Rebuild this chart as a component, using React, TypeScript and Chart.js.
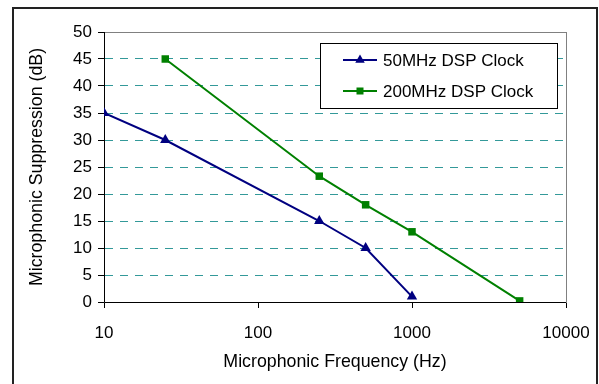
import React, { useEffect, useRef } from "react";
import { Chart, registerables } from "chart.js";

Chart.register(...registerables);

const seriesLabels = ["50MHz DSP Clock", "200MHz DSP Clock"];
const freq50 = [10, 25, 250, 500, 1000];
const supp50 = [35, 30, 15, 10, 1];
const freq200 = [25, 250, 500, 1000, 5000];
const supp200 = [45, 23.3, 18, 13, 0.2];
const xTicks = [10, 100, 1000, 10000];
const yTitle = "Microphonic Suppression (dB)";
const xTitle = "Microphonic Frequency (Hz)";

const FONT = "'Liberation Sans', Arial, sans-serif";
const NAVY = "#000080";
const GREEN = "#008000";

const framePlugin = {
  id: "frame",
  beforeDatasetsDraw(chart: any) {
    const { ctx, chartArea } = chart;
    ctx.save();
    ctx.strokeStyle = "#808080";
    ctx.lineWidth = 1;
    ctx.strokeRect(
      Math.round(chartArea.left) + 0.5,
      Math.round(chartArea.top) + 0.5,
      Math.round(chartArea.right - chartArea.left),
      Math.round(chartArea.bottom - chartArea.top)
    );
    ctx.strokeStyle = "#000";
    ctx.beginPath();
    ctx.moveTo(Math.round(chartArea.left) + 0.5, Math.round(chartArea.top));
    ctx.lineTo(Math.round(chartArea.left) + 0.5, Math.round(chartArea.bottom) + 0.5);
    ctx.lineTo(Math.round(chartArea.right), Math.round(chartArea.bottom) + 0.5);
    ctx.stroke();
    ctx.restore();
  },
  afterDraw(chart: any) {
    const { ctx } = chart;
    ctx.save();
    ctx.strokeStyle = "#222";
    ctx.lineWidth = 2;
    ctx.strokeRect(13, 8, 584, 400);
    ctx.restore();
  },
};

const legendPlugin = {
  id: "boxLegend",
  afterDraw(chart: any) {
    const { ctx } = chart;
    const bx = 320, by = 43, bw = 237, bh = 65;
    ctx.save();
    ctx.fillStyle = "#fff";
    ctx.fillRect(bx, by, bw, bh);
    ctx.strokeStyle = "#000";
    ctx.lineWidth = 1;
    ctx.strokeRect(bx + 0.5, by + 0.5, bw, bh);
    chart.data.datasets.forEach((ds: any, i: number) => {
      const y = 60 + i * 31;
      ctx.strokeStyle = ds.borderColor;
      ctx.lineWidth = 2;
      ctx.beginPath();
      ctx.moveTo(343, y);
      ctx.lineTo(377, y);
      ctx.stroke();
      ctx.fillStyle = ds.pointBackgroundColor;
      const cx = 360;
      if (ds.pointStyle === "triangle") {
        const r = 5.5;
        ctx.beginPath();
        ctx.moveTo(cx, y - r);
        ctx.lineTo(cx + r * 0.866, y + r * 0.5);
        ctx.lineTo(cx - r * 0.866, y + r * 0.5);
        ctx.closePath();
        ctx.fill();
      } else {
        ctx.fillRect(cx - 3.5, y - 3.5, 7, 7);
      }
      ctx.fillStyle = "#000";
      ctx.font = `17px ${FONT}`;
      ctx.textBaseline = "middle";
      ctx.textAlign = "left";
      ctx.fillText(ds.label, 383, y + 1);
    });
    ctx.restore();
  },
};

export default function App() {
  const ref = useRef<HTMLCanvasElement>(null);
  useEffect(() => {
    if (!ref.current) return;
    const chart = new Chart(ref.current, {
      type: "line",
      data: {
        datasets: [
          {
            label: seriesLabels[0],
            data: freq50.map((x, i) => ({ x, y: supp50[i] })),
            borderColor: NAVY,
            backgroundColor: NAVY,
            pointBackgroundColor: NAVY,
            pointBorderColor: NAVY,
            pointStyle: "triangle",
            pointRadius: 6,
            borderWidth: 2,
            pointBorderWidth: 0,
          },
          {
            label: seriesLabels[1],
            data: freq200.map((x, i) => ({ x, y: supp200[i] })),
            borderColor: GREEN,
            backgroundColor: GREEN,
            pointBackgroundColor: GREEN,
            pointBorderColor: GREEN,
            pointStyle: "rect",
            pointRadius: 5.3,
            borderWidth: 2,
            pointBorderWidth: 0,
          },
        ],
      },
      options: {
        animation: false,
        responsive: false,
        layout: { padding: { left: 0, right: 33, top: 32, bottom: 0 } },
        plugins: {
          legend: { display: false },
          tooltip: { enabled: false },
        },
        scales: {
          x: {
            type: "logarithmic",
            min: 10,
            max: 10000,
            afterBuildTicks: (scale: any) => {
              scale.ticks = xTicks.map((v) => ({ value: v }));
            },
            afterFit: (scale: any) => {
              scale.height = 82;
              scale.paddingLeft = 0;
              scale.paddingRight = 0;
            },
            ticks: {
              callback: (v: any) => String(v),
              color: "#000",
              font: { family: FONT, size: 17 },
              padding: 15,
              maxRotation: 0,
              autoSkip: false,
            },
            grid: {
              drawOnChartArea: false,
              drawTicks: true,
              tickLength: 6,
              tickColor: "#000",
              tickWidth: 1,
            },
            border: { display: false },
            title: {
              display: true,
              text: xTitle,
              color: "#000",
              font: { family: FONT, size: 17.8 },
              padding: { top: 0, bottom: 11 },
            },
          },
          y: {
            type: "linear",
            min: 0,
            max: 50,
            afterFit: (scale: any) => {
              scale.width = 104;
              scale.paddingTop = 0;
              scale.paddingBottom = 0;
            },
            ticks: {
              stepSize: 5,
              color: "#000",
              font: { family: FONT, size: 17 },
              padding: 6,
            },
            grid: {
              color: (c: any) =>
                c.tick && (c.tick.value === 0 || c.tick.value === 50)
                  ? "rgba(0,0,0,0)"
                  : "#339999",
              lineWidth: 1,
              drawTicks: true,
              tickLength: 6,
              tickColor: "#000",
              tickWidth: 1,
              tickBorderDash: [1, 0],
            },
            border: { display: false, dash: [8, 7], dashOffset: -1 },
            title: {
              display: true,
              text: yTitle,
              color: "#000",
              font: { family: FONT, size: 17.8 },
              padding: { top: 26, bottom: 0 },
            },
          },
        },
      },
      plugins: [framePlugin, legendPlugin],
    } as any);
    return () => chart.destroy();
  }, []);
  return (
    <div style={{ position: "fixed", left: 0, top: 0, width: 599, height: 384, background: "#fff" }}>
      <canvas ref={ref} width={599} height={384} style={{ display: "block" }} />
    </div>
  );
}
